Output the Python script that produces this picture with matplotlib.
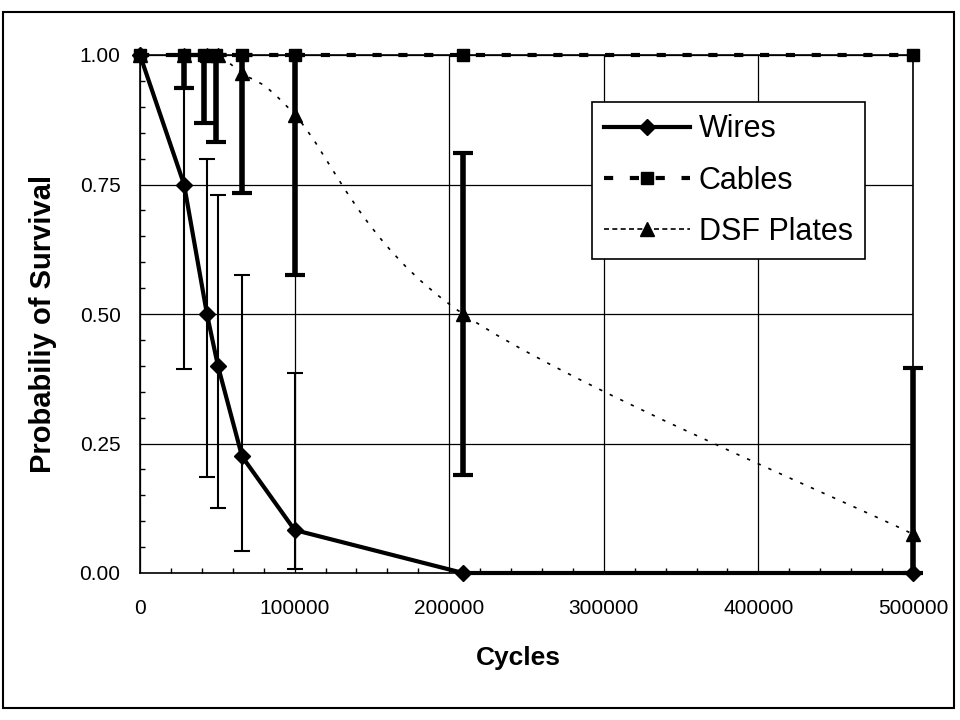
"""Probability of survival vs cycles"""

import matplotlib.pyplot as plt
import numpy as np
from matplotlib.lines import Line2D
from matplotlib.patches import PathPatch, Rectangle
from matplotlib.path import Path

plt.rcParams["font.family"] = ["Liberation Sans", "DejaVu Sans"]

# Data
wires_x = [0, 28500, 43300, 50400, 66000, 100000, 209000, 500000]
wires_y = [1.0, 0.75, 0.50, 0.40, 0.225, 0.083, 0.0, 0.0]
wires_lo = [np.nan, 0.394, 0.185, 0.125, 0.043, 0.008, np.nan, np.nan]
wires_hi = [np.nan, 0.938, 0.800, 0.730, 0.575, 0.386, np.nan, np.nan]

cables_x = [0, 28500, 41500, 49200, 66000, 100000, 209000, 500000]
cables_y = [1.0, 1.0, 1.0, 1.0, 1.0, 1.0, 1.0, 1.0]
cables_lo = [np.nan, 0.937, 0.869, 0.832, np.nan, np.nan, np.nan, np.nan]

dsf_x = [0, 28500, 43300, 50400, 66000, 100000, 209000, 500000]
dsf_y = [1.0, 1.0, 1.0, 1.0, 0.965, 0.885, 0.50, 0.075]
dsf_lo = [np.nan, np.nan, np.nan, np.nan, 0.734, 0.575, 0.190, 0.0]
dsf_hi = [np.nan, np.nan, np.nan, np.nan, 1.0, 1.0, 0.810, 0.395]

fig = plt.figure(figsize=(9.6, 7.2), dpi=100)
fig.patches.append(
    Rectangle((3 / 960, 12 / 720), 951 / 960, 696 / 720,
              transform=fig.transFigure, fill=False, ec="black", lw=1.5)
)
ax = fig.add_axes([140 / 960, 1 - 573 / 720, 773 / 960, 518 / 720])


# Error bars
def draw_err(x, y, lo, hi, lw, cap, capthick):
    y = np.array(y)
    e = np.vstack([y - np.array(lo), np.array(hi) - y])
    mask = ~np.isnan(e[0])
    eb = ax.errorbar(
        np.array(x)[mask], y[mask], yerr=e[:, mask], fmt="none",
        ecolor="black", elinewidth=lw, capsize=cap, capthick=capthick,
        zorder=3,
    )
    for art in eb.lines[1] + eb.lines[2]:
        art.set_clip_on(False)


draw_err(wires_x, wires_y, wires_lo, wires_hi, 1.5, 6, 1.5)
cables_hi = [y if not np.isnan(l) else np.nan for y, l in zip(cables_y, cables_lo)]
draw_err(cables_x, cables_y, cables_lo, cables_hi, 4, 7, 3)
draw_err(dsf_x, dsf_y, dsf_lo, dsf_hi, 4, 7, 3)

# DSF smoothed curve (Catmull-Rom style bezier through the points)
pts = np.column_stack([dsf_x, dsf_y]).astype(float)
verts = [pts[0]]
codes = [Path.MOVETO]
for i in range(len(pts) - 1):
    p0 = pts[i - 1] if i > 0 else pts[i]
    p1 = pts[i]
    p2 = pts[i + 1]
    p3 = pts[i + 2] if i + 2 < len(pts) else pts[i + 1]
    verts += [p1 + (p2 - p0) / 6, p2 - (p3 - p1) / 6, p2]
    codes += [Path.CURVE4] * 3
curve = PathPatch(Path(verts, codes), fill=False, ec="black", lw=1.2,
                  ls=(0, (2, 5)), zorder=4)
ax.add_patch(curve)
ax.plot(dsf_x, dsf_y, ls="none", marker="^", ms=10, color="black",
        zorder=5, clip_on=False)

# Cables and wires
ax.plot(cables_x, cables_y, color="black", lw=3, dashes=(2.2, 4),
        marker="s", ms=9, zorder=6, clip_on=False)
ax.plot(wires_x, wires_y, color="black", lw=3, marker="D", ms=8,
        zorder=7, clip_on=False)

ax.set_xlim(0, 500000)
ax.set_ylim(0, 1.0)
ax.set_xticks(np.arange(0, 500001, 100000))
ax.set_xticklabels([str(v) for v in range(0, 500001, 100000)])
ax.set_yticks([0, 0.25, 0.5, 0.75, 1.0])
ax.set_yticklabels(["0.00", "0.25", "0.50", "0.75", "1.00"])
ax.set_xticks(np.arange(0, 500001, 20000), minor=True)
ax.set_yticks(np.arange(0, 1.0001, 0.05), minor=True)
ax.tick_params(which="major", length=0, labelsize=15)
ax.tick_params(axis="x", which="major", pad=19)
ax.tick_params(axis="y", which="major", pad=14)
ax.tick_params(which="minor", direction="in", length=3.5, width=1)
ax.grid(which="major", color="black", lw=0.9)
ax.set_axisbelow(True)
for s in ax.spines.values():
    s.set_linewidth(1.2)

ax.set_xlabel("Cycles", fontsize=19, fontweight="bold")
ax.xaxis.set_label_coords(0.489, -0.14)
ax.set_ylabel("Probabiliy of Survival", fontsize=21, fontweight="bold")
ax.yaxis.set_label_coords(-0.108, 0.48)

handles = [
    Line2D([], [], color="black", lw=3, marker="D", ms=8),
    Line2D([], [], color="black", lw=3, dashes=(2.2, 4), marker="s", ms=9),
    Line2D([], [], color="black", lw=1.2, dashes=(3, 2), marker="^", ms=10),
]
leg = ax.legend(
    handles, ["Wires", "Cables", "DSF Plates"], fontsize=22,
    loc="upper left", bbox_to_anchor=(592 / 960, 1 - 102 / 720),
    bbox_transform=fig.transFigure, frameon=True, fancybox=False,
    framealpha=1, edgecolor="black", handlelength=2.8, handletextpad=0.3,
    borderpad=0.4, labelspacing=0.7, borderaxespad=0,
)
leg.get_frame().set_linewidth(1.2)

fig.savefig("out.png", dpi=100)
